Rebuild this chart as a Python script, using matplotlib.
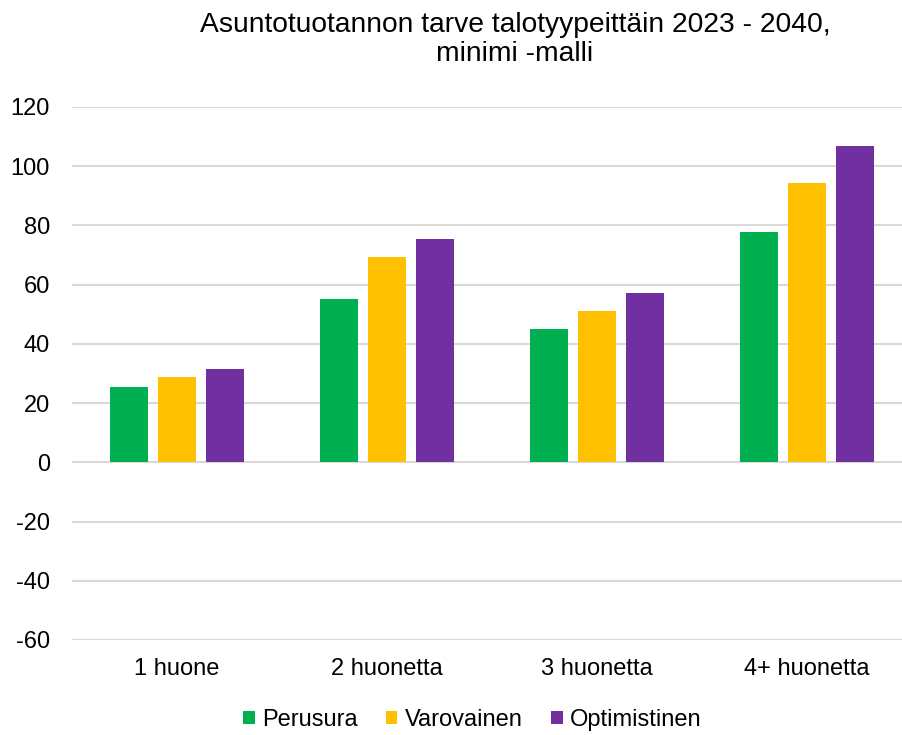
import matplotlib
matplotlib.use("Agg")
import matplotlib.pyplot as plt
import numpy as np

categories = ["1 huone", "2 huonetta", "3 huonetta", "4+ huonetta"]
series_names = ["Perusura", "Varovainen", "Optimistinen"]
perusura = [25.5, 55.0, 45.0, 77.7]
varovainen = [28.8, 69.2, 51.1, 94.4]
optimistinen = [31.5, 75.3, 57.2, 106.9]
y_ticks = [-60, -40, -20, 0, 20, 40, 60, 80, 100, 120]

colors = ["#00B050", "#FFC000", "#7030A0"]

plt.rcParams["font.family"] = ["Liberation Sans", "DejaVu Sans"]

W, H = 903, 735
fig = plt.figure(figsize=(W / 100, H / 100), dpi=100)
ax = fig.add_axes([72 / W, 1 - 640 / H, 840 / W, (640 - 107) / H])

x = np.arange(len(categories))
width = 0.18
step = 0.228
for i, (name, vals, col) in enumerate(zip(series_names, [perusura, varovainen, optimistinen], colors)):
    ax.bar(x + (i - 1) * step, vals, width=width, color=col, label=name, zorder=3)

ax.set_ylim(-60, 120)
ax.set_xlim(-0.5, len(categories) - 0.5)
ax.set_yticks(y_ticks)
ax.set_yticklabels([str(v) for v in y_ticks])
ax.set_xticks(x)
ax.set_xticklabels(categories)
ax.tick_params(axis="both", length=0, labelsize=17, colors="#000000")
ax.tick_params(axis="x", pad=13)
ax.tick_params(axis="y", pad=16)
ax.grid(axis="y", color="#D9D9D9", linewidth=1.5, zorder=0)
for s in ax.spines.values():
    s.set_visible(False)

title_lines = ["Asuntotuotannon tarve talotyypeittäin 2023 - 2040,", "minimi -malli"]
for line, base in zip(title_lines, [31.5, 61.0]):
    fig.text(515 / W, 1 - base / H, line, ha="center", va="baseline", fontsize=20.3)

fig.legend(loc="center", bbox_to_anchor=(472 / W, 1 - 720 / H), ncol=3, frameon=False,
           fontsize=17, handlelength=0.5, handleheight=0.5, handletextpad=0.3,
           columnspacing=1.2)

fig.savefig("out.png", dpi=100)
